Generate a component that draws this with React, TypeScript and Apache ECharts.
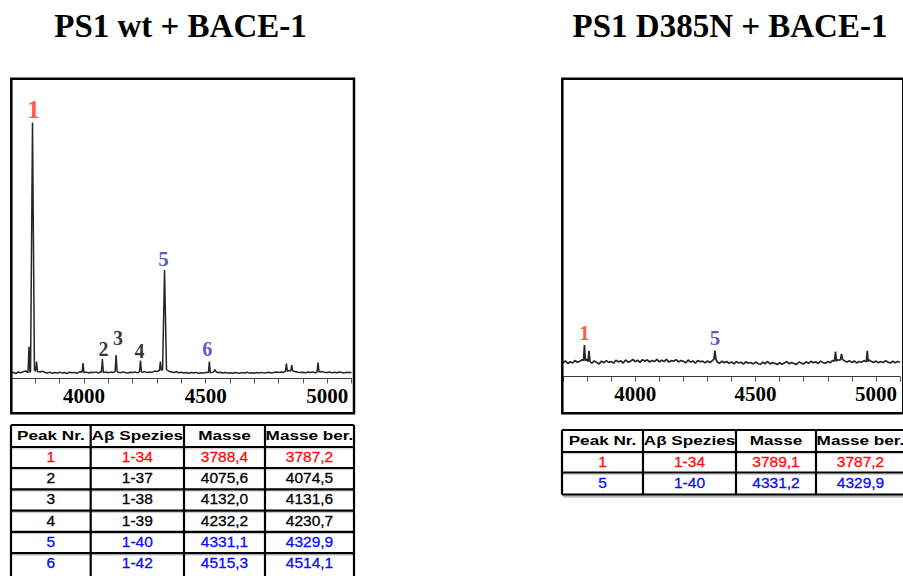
import React, { useEffect, useRef } from "react";
import * as echarts from "echarts";

// ---------- data ----------
const MASS_MIN = 3700;
const MASS_MAX = 5100;
const MASS_STEP = 10;
const X_TICK_LABELS = [4000, 4500, 5000];

const titles = ["PS1 wt + BACE-1", "PS1 D385N + BACE-1"];
const tableHeader = ["Peak Nr.", "Aβ Spezies", "Masse", "Masse ber."];

// PS1 wt: baseline intensity, sampled every 10 Da from 3700 to 5100
const wtBaseline = [
  5.5, 6.2, 5.0, 6.5, 5.8, 6.8, 7.5, 6.0, 7.0, 8.0,
  8.5, 7.0, 6.5, 7.2, 6.0, 5.5, 6.4, 5.2, 6.0, 5.6,
  6.2, 5.4, 6.0, 5.0, 6.3, 5.7, 6.1, 5.3, 6.4, 6.8,
  5.8, 6.4, 5.5, 6.2, 5.9, 6.6, 5.4, 6.9, 6.0, 6.5,
  5.7, 6.4, 6.1, 7.0, 6.2, 5.8, 6.6, 6.0, 5.5, 6.3,
  6.0, 6.6, 5.6, 6.8, 6.2, 6.9, 5.9, 6.5, 6.1, 7.4,
  7.0, 8.0, 7.5, 9.0, 8.5, 7.0, 6.5, 6.0, 6.7, 5.8,
  6.2, 5.6, 6.0, 5.3, 5.9, 5.5, 6.1, 5.2, 5.8, 5.4,
  5.9, 6.3, 5.6, 6.4, 7.0, 5.8, 6.2, 5.5, 6.0, 5.4,
  5.8, 5.3, 6.0, 5.6, 5.2, 5.9, 5.5, 6.2, 5.4, 5.7,
  5.3, 5.9, 5.6, 6.1, 5.4, 5.8, 6.2, 5.6, 6.0, 6.4,
  6.0, 6.6, 6.3, 7.2, 8.0, 7.5, 8.0, 6.8, 6.2, 5.9,
  6.3, 5.8, 6.4, 6.0, 6.6, 5.7, 6.3, 7.0, 6.8, 6.1,
  5.9, 6.4, 5.7, 6.2, 5.8, 6.5, 6.0, 5.6, 6.3, 5.9,
  6.1,
];
const wtPeakNumbers = ["1", "2", "3", "4", "5", "6"];
const wtSpecies = ["1-34", "1-37", "1-38", "1-39", "1-40", "1-42"];
const wtMass = ["3788,4", "4075,6", "4132,0", "4232,2", "4331,1", "4515,3"];
const wtMassCalc = ["3787,2", "4074,5", "4131,6", "4230,7", "4329,9", "4514,1"];
const wtPeakHeights = [256, 19.5, 23.5, 18, 108.5, 17];
const wtMinorPeaks = [
  [3774, 32], [3805, 17], [3996, 15.5], [4314, 17],
  [4538, 9], [4832, 15], [4854, 13.5], [4962, 16],
];

// PS1 D385N
const d385nBaseline = [
  14.0, 15.8, 13.2, 15.0, 13.8, 16.2, 14.5, 15.5, 17.0, 16.0,
  17.5, 15.0, 13.5, 15.8, 14.2, 12.8, 15.6, 13.9, 16.1, 14.3,
  15.2, 13.6, 16.4, 14.8, 15.9, 13.7, 16.8, 14.6, 15.3, 17.2,
  15.0, 16.6, 14.4, 17.0, 15.4, 16.9, 14.7, 16.3, 15.1, 17.4,
  14.9, 16.5, 15.2, 17.3, 14.6, 16.0, 15.5, 17.1, 14.8, 16.2,
  15.3, 13.9, 16.7, 14.5, 15.8, 13.6, 16.2, 14.9, 15.6, 13.8,
  15.7, 14.2, 16.0, 17.5, 15.0, 13.4, 15.5, 14.0, 15.2, 13.3,
  14.8, 12.9, 15.1, 13.7, 14.4, 12.6, 15.0, 13.5, 14.2, 12.8,
  14.6, 13.2, 12.4, 14.5, 13.0, 15.2, 12.7, 14.1, 13.4, 12.2,
  14.0, 12.5, 13.8, 15.1, 12.9, 14.3, 13.1, 12.3, 14.7, 13.6,
  12.8, 14.9, 13.3, 15.4, 13.9, 14.8, 13.2, 15.6, 14.1, 13.5,
  15.1, 14.0, 16.2, 15.5, 17.0, 16.4, 17.3, 15.8, 14.6, 15.9,
  14.3, 15.7, 13.8, 15.2, 14.5, 16.1, 15.0, 16.8, 15.4, 14.2,
  15.6, 13.9, 15.3, 14.1, 16.0, 14.6, 13.7, 15.5, 14.0, 15.2,
  14.4,
];
const d385nPeakNumbers = ["1", "5"];
const d385nSpecies = ["1-34", "1-40"];
const d385nMass = ["3789,1", "4331,2"];
const d385nMassCalc = ["3787,2", "4329,9"];
const d385nPeakHeights = [31.7, 26];
const d385nMinorPeaks = [[3808, 26], [4832, 25], [4857, 22.7], [4964, 26]];

// ---------- layout / style ----------
const PX_PER_DA = 0.2433;
const GRID_W = (MASS_MAX - MASS_MIN) * PX_PER_DA;
const GRIDS = [
  { left: 11, top: 78.5, height: 300 },
  { left: 563, top: 76.7, height: 300 },
];
const BOXES = [
  { x: 11.3, y: 78.7, w: 342.7, h: 334.6 },
  { x: 562.3, y: 78.7, w: 341, h: 334.6 },
];
const TITLE_POS = [
  { x: 180.5, y: 26 },
  { x: 730, y: 26 },
];
const WT_LABEL_OFFSETS = [[1, -13], [1, -10], [2, -17], [-1, -9.5], [-1, -11], [-2, -13]];
const WT_LABEL_SIZES = [26, 20, 20, 20, 21, 20];
const D385N_LABEL_OFFSETS = [[0, -12], [0, -12.5]];
const D385N_LABEL_SIZES = [21, 21];

const TABLES = [
  { cols: [11, 90.7, 184, 265, 354], rows: [425, 447, 468, 489.3, 510.6, 531.9, 553.2, 578], shadow: false },
  { cols: [562, 643, 736, 816, 905], rows: [430, 452, 472.5, 494.5], shadow: true },
];

const PEAK_RED = "#ff3010";
const PEAK_BLUE = "#2e2ec4";
const TABLE_RED = "#ff0a0a";
const TABLE_BLUE = "#0a0aff";
const TRACE_COLOR = "#262626";

const tableColor = (s: string) =>
  s === "1-34" ? TABLE_RED : s === "1-40" || s === "1-42" ? TABLE_BLUE : "#000";
const peakColor = (s: string) =>
  s === "1-34" ? PEAK_RED : s === "1-40" || s === "1-42" ? PEAK_BLUE : "#000";
const parseMass = (s: string) => parseFloat(s.replace(",", "."));

const halfWidth = (h: number) => (h > 60 ? 8 : 4);

function buildTrace(baseline: number[], peaks: number[][]) {
  const pts: number[][] = [];
  baseline.forEach((v, i) => {
    const m = MASS_MIN + i * MASS_STEP;
    if (!peaks.some(([pm, ph]) => Math.abs(m - pm) <= halfWidth(ph))) pts.push([m, v]);
  });
  peaks.forEach(([pm, ph]) => {
    const w = halfWidth(ph);
    const b = baseline[Math.round((pm - MASS_MIN) / MASS_STEP)];
    pts.push([pm - w, b], [pm, ph], [pm + w, b]);
  });
  pts.sort((a, b) => a[0] - b[0]);
  return pts;
}

function buildTable(
  t: { cols: number[]; rows: number[]; shadow: boolean },
  columns: string[][],
  species: string[]
) {
  const els: any[] = [];
  const { cols, rows } = t;
  const x0 = cols[0];
  const x1 = cols[cols.length - 1];
  const y0 = rows[0];
  const y1 = rows[rows.length - 1];
  if (t.shadow) {
    els.push({ type: "line", shape: { x1: x0 + 2, y1: y1 + 2, x2: x1, y2: y1 + 2 }, style: { stroke: "#9a9a9a", lineWidth: 2 } });
  }
  rows.forEach((y, i) => {
    if (i > 0) {
      els.push({ type: "line", shape: { x1: x0, y1: y + 1.8, x2: x1, y2: y + 1.8 }, style: { stroke: "#c4c4c4", lineWidth: 1 } });
    }
    els.push({ type: "line", shape: { x1: x0, y1: y, x2: x1, y2: y }, style: { stroke: "#000", lineWidth: 2.2 } });
  });
  cols.forEach((x) => {
    els.push({ type: "line", shape: { x1: x, y1: y0, x2: x, y2: y1 }, style: { stroke: "#000", lineWidth: 2.2 } });
  });
  tableHeader.forEach((h, c) => {
    els.push({
      type: "text",
      x: (cols[c] + cols[c + 1]) / 2,
      y: (rows[0] + rows[1]) / 2 - 0.5,
      scaleX: 1.32,
      style: {
        text: h,
        textAlign: "center",
        textVerticalAlign: "middle",
        fontFamily: "Liberation Sans",
        fontWeight: "bold",
        fontSize: 13,
        fill: "#000",
      },
    });
  });
  species.forEach((s, r) => {
    columns.forEach((col, c) => {
      els.push({
        type: "text",
        x: (cols[c] + cols[c + 1]) / 2,
        y: Math.min((rows[r + 1] + rows[r + 2]) / 2, rows[r + 1] + 10.7) - 1,
        style: {
          text: col[r],
          textAlign: "center",
          textVerticalAlign: "middle",
          fontFamily: "Liberation Sans",
          fontSize: 15.5,
          fill: tableColor(s),
          stroke: tableColor(s),
          lineWidth: 0.3,
        },
      });
    });
  });
  return els;
}

const xAxisFor = (gridIndex: number) => ({
  type: "value",
  gridIndex,
  min: MASS_MIN,
  max: MASS_MAX,
  interval: 100,
  axisLine: { show: true, onZero: false, lineStyle: { color: "#3a3a3a", width: 1 } },
  axisTick: { show: true, inside: false, length: 5, lineStyle: { color: "#555", width: 1 } },
  axisLabel: {
    show: true,
    margin: 7,
    formatter: (v: number) => (X_TICK_LABELS.includes(Math.round(v)) ? String(Math.round(v)) : ""),
    fontFamily: "Liberation Serif",
    fontWeight: "bold",
    fontSize: 21,
    color: "#000",
  },
  splitLine: { show: false },
});

const yAxisFor = (gridIndex: number) => ({
  type: "value",
  gridIndex,
  min: 0,
  max: 300,
  show: false,
});

export default function App() {
  const ref = useRef<HTMLDivElement>(null);
  useEffect(() => {
    if (!ref.current) return;
    const chart = echarts.init(ref.current, null, { renderer: "svg" });

    const wtPeaks = [
      ...wtMass.map((m, i) => [parseMass(m), wtPeakHeights[i]]),
      ...wtMinorPeaks,
    ];
    const d385nPeaks = [
      ...d385nMass.map((m, i) => [parseMass(m), d385nPeakHeights[i]]),
      ...d385nMinorPeaks,
    ];

    const labelSeries = (
      idx: number,
      nums: string[],
      masses: string[],
      heights: number[],
      species: string[],
      offsets: number[][],
      sizes: number[]
    ) => ({
      type: "scatter",
      xAxisIndex: idx,
      yAxisIndex: idx,
      symbolSize: 1,
      silent: true,
      itemStyle: { color: "rgba(0,0,0,0)" },
      label: {
        show: true,
        position: "inside",
        formatter: "{b}",
        fontFamily: "Liberation Serif",
        fontWeight: "bold",
      },
      data: nums.map((n, i) => ({
        name: n,
        value: [parseMass(masses[i]), heights[i]],
        label: { color: peakColor(species[i]), fontSize: sizes[i], offset: offsets[i] },
      })),
    });

    const graphic: any[] = [];
    titles.forEach((t, i) => {
      graphic.push({
        type: "text",
        x: TITLE_POS[i].x,
        y: TITLE_POS[i].y,
        style: {
          text: t,
          textAlign: "center",
          textVerticalAlign: "middle",
          fontFamily: "Liberation Serif",
          fontWeight: "bold",
          fontSize: 33,
          fill: "#000",
        },
      });
    });
    BOXES.forEach((b) => {
      graphic.push({
        type: "rect",
        shape: { x: b.x, y: b.y, width: b.w, height: b.h },
        style: { fill: "none", stroke: "#000", lineWidth: 2.5 },
        z: 100,
      });
    });
    graphic.push(
      ...buildTable(TABLES[0], [wtPeakNumbers, wtSpecies, wtMass, wtMassCalc], wtSpecies),
      ...buildTable(TABLES[1], [d385nPeakNumbers, d385nSpecies, d385nMass, d385nMassCalc], d385nSpecies)
    );

    chart.setOption({
      animation: false,
      backgroundColor: "#fff",
      grid: GRIDS.map((g) => ({ left: g.left, top: g.top, width: GRID_W, height: g.height, containLabel: false })),
      xAxis: [xAxisFor(0), xAxisFor(1)],
      yAxis: [yAxisFor(0), yAxisFor(1)],
      series: [
        {
          type: "line",
          xAxisIndex: 0,
          yAxisIndex: 0,
          symbol: "none",
          silent: true,
          lineStyle: { color: TRACE_COLOR, width: 1.5 },
          data: buildTrace(wtBaseline, wtPeaks),
        },
        {
          type: "line",
          xAxisIndex: 1,
          yAxisIndex: 1,
          symbol: "none",
          silent: true,
          lineStyle: { color: TRACE_COLOR, width: 1.7 },
          data: buildTrace(d385nBaseline, d385nPeaks),
        },
        labelSeries(0, wtPeakNumbers, wtMass, wtPeakHeights, wtSpecies, WT_LABEL_OFFSETS, WT_LABEL_SIZES),
        labelSeries(1, d385nPeakNumbers, d385nMass, d385nPeakHeights, d385nSpecies, D385N_LABEL_OFFSETS, D385N_LABEL_SIZES),
      ],
      graphic,
    });
    return () => chart.dispose();
  }, []);
  return (
    <div
      ref={ref}
      style={{ position: "absolute", left: 0, top: 0, width: 903, height: 576, background: "#fff" }}
    />
  );
}
